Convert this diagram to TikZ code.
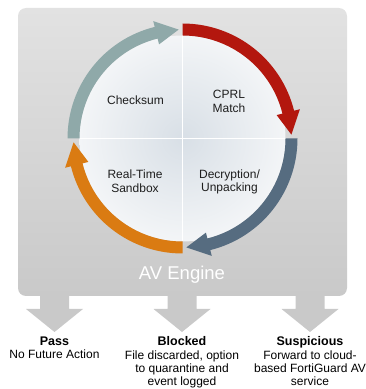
\documentclass[tikz,border=0pt]{standalone}
\usepackage{fontspec}
\setmainfont{Liberation Sans}
\definecolor{cycred}{HTML}{B3170E}
\definecolor{cycblue}{HTML}{566C80}
\definecolor{cycorange}{HTML}{DA7B12}
\definecolor{cycteal}{HTML}{8FA9A9}
\definecolor{boxtop}{HTML}{E2E2E2}
\definecolor{boxbottom}{HTML}{C9C9C9}
\definecolor{diskcentre}{HTML}{D8DFE6}
\definecolor{diskrim}{HTML}{F3F5F7}
\definecolor{labelgray}{HTML}{1E1E1E}
% curved arrow on the ring: start angle, head base angle, tip angle, colour
\newcommand\ringarrow[4]{%
  \fill[#4] (#1:115) arc[start angle=#1, end angle=#2, radius=115]
    -- (#2:121) -- (#3:109) -- (#2:97) -- (#2:103)
    arc[start angle=#2, end angle=#1, radius=103] -- cycle;}
\newcommand\outtitle[1]{{\fontsize{12.5}{13.5}\selectfont\bfseries #1}}
\begin{document}
\begin{tikzpicture}[x=1pt,y=1pt,
  steplabel/.style={font=\fontsize{12}{13.5}\selectfont, text=labelgray, align=center, inner sep=0pt},
  outcome/.style={font=\fontsize{12}{13.4}\selectfont, text=black, align=center, inner sep=0pt, anchor=north},
  outarrow/.style={fill=boxbottom},
  divider/.style={white, line width=1.5pt}]
\useasboundingbox (0,0) rectangle (366,389);
% engine panel
\shade[top color=boxtop, bottom color=boxbottom, rounded corners=8pt] (18,93) rectangle (347,381);
% outcome arrows below the panel
\foreach \cx/\nm in {54.5/pa, 182/bl, 310/su}{
  \fill[outarrow] (\cx-14.5,94) -- (\cx-14.5,80) -- (\cx-28.5,80) -- (\cx,57) coordinate (\nm)
    -- (\cx+28.5,80) -- (\cx+14.5,80) -- (\cx+14.5,94) -- cycle;
}
% the scanning cycle
\begin{scope}[shift={(182.5,250.5)}]
  \shade[inner color=diskcentre, outer color=diskrim] (0,0) circle (103);
  \draw[divider] (0,103) -- (0,-103);
  \draw[divider] (-103,0) -- (103,0);
  \ringarrow{90}{14}{2}{cycred}
  \ringarrow{0}{-76}{-88}{cycblue}
  \ringarrow{-90}{-166}{-178}{cycorange}
  \ringarrow{180}{104}{92}{cycteal}
\end{scope}
% step labels
\node[steplabel] (chk) at (135.5,289) {Checksum};
\node[steplabel] (cprl) at (229,287.5) {CPRL\\Match};
\node[steplabel] (rts) at (135,208) {Real-Time\\Sandbox};
\node[steplabel] (dec) at (229.5,207) {Decryption/\\Unpacking};
\node[font=\fontsize{18.5}{20}\selectfont, text=white, inner sep=0pt] (av) at (182,114) {AV Engine};
% outcomes
\node[outcome] (pass) at (54.5,52.5) {\outtitle{Pass}\\No Future Action};
\node[outcome] (blk) at (182,52.5) {\outtitle{Blocked}\\File discarded, option\\to quarantine and\\event logged};
\node[outcome] (sus) at (310,52.5) {\outtitle{Suspicious}\\Forward to cloud-\\based FortiGuard AV\\service};
\end{tikzpicture}
\end{document}
